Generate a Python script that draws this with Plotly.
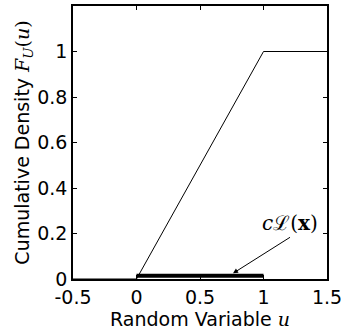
import plotly.graph_objects as go

cdf_u = [-0.5, 0, 1, 1.5]
cdf_F = [0, 0, 1, 1]
lik_u = [0, 1]
lik_v = [0.014, 0.014]
x_ticks = [-0.5, 0, 0.5, 1, 1.5]
x_tick_labels = ["-0.5", "0", "0.5", "1", "1.5"]
y_ticks = [0, 0.2, 0.4, 0.6, 0.8, 1]
y_tick_labels = ["0", "0.2", "0.4", "0.6", "0.8", "1"]
arrow_head = (0.76, 0.025)
label_text = "<i>c</i>ℒ(<b>x</b>)"
x_title = 'Random Variable <span style="font-family:DejaVu Serif"><i>u</i></span>'
y_title = ('Cumulative Density <span style="font-family:DejaVu Serif">'
           '<i>F<sub>U</sub></i>(<i>u</i>)</span>')

fig = go.Figure()
fig.add_trace(go.Scatter(x=cdf_u, y=cdf_F, mode="lines",
                         line=dict(color="black", width=1), showlegend=False,
                         cliponaxis=False))
fig.add_trace(go.Scatter(x=lik_u, y=lik_v, mode="lines",
                         line=dict(color="black", width=4), showlegend=False))
fig.add_annotation(x=arrow_head[0], y=arrow_head[1], xref="x", yref="y",
                   text=label_text, showarrow=True, arrowhead=2, arrowsize=1,
                   arrowwidth=1, arrowcolor="black", ax=57, ay=-36,
                   font=dict(size=20, color="black", family="DejaVu Serif"),
                   xanchor="center", yanchor="bottom")

font = dict(family="DejaVu Sans", size=19, color="black")
title_font = dict(family="DejaVu Sans", size=19, color="black")
fig.update_layout(
    width=341, height=330,
    margin=dict(l=73, r=14, t=6, b=51, autoexpand=False),
    plot_bgcolor="white", paper_bgcolor="white",
    font=font,
    xaxis=dict(range=[-0.5, 1.5], tickvals=x_ticks, ticktext=x_tick_labels,
               ticks="inside", ticklen=4, tickcolor="black", mirror="allticks",
               showline=True, linecolor="black", linewidth=1.5, showgrid=False,
               zeroline=False, automargin=False, ticklabeloverflow="allow",
               title=dict(text=x_title, standoff=0, font=title_font),
               tickfont=font),
    yaxis=dict(range=[0, 1.2], tickvals=y_ticks, ticktext=y_tick_labels,
               ticks="inside", ticklen=4, tickcolor="black", mirror="allticks",
               showline=True, linecolor="black", linewidth=1.5, showgrid=False,
               zeroline=False, automargin=False, ticklabeloverflow="allow",
               title=dict(text=y_title, standoff=3, font=title_font),
               tickfont=font),
)
fig.write_html("out.html")
